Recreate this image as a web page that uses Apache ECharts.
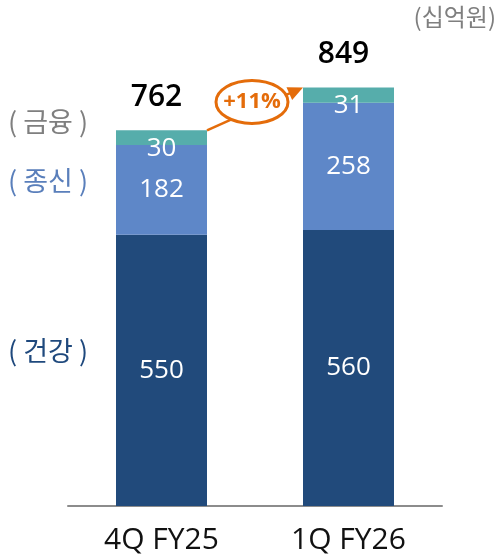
<!DOCTYPE html>
<html>
<head>
<meta charset="utf-8">
<script src="https://cdn.jsdelivr.net/npm/echarts@6/dist/echarts.min.js"></script>
<style>
  html, body { margin: 0; padding: 0; background: #fff; }
  #chart { width: 500px; height: 560px; }
</style>
</head>
<body>
<div id="chart"></div>
<script>
const categories = ['4Q FY25', '1Q FY26']
const health = [550, 560]   // 건강
const life = [182, 258]     // 종신
const finance = [30, 31]    // 금융
const totals = [762, 849]
const growthText = '+11%'
const unitText = '(십억원)'

const FONT = '"Open Sans", "Noto Sans CJK KR", sans-serif'
const KFONT = '"Noto Sans CJK KR", sans-serif'
const chart = echarts.init(document.getElementById('chart'))

// 2번째 막대 라벨은 조금 굵게
const withWeight = arr => arr.map((v, i) => ({
  value: v,
  label: { fontWeight: i === 1 ? 500 : 'normal' }
}))

const innerLabel = {
  show: true,
  color: '#fff',
  fontSize: 26,
  fontFamily: FONT
}

const option = {
  animation: false,
  grid: { left: 68, right: 58, top: 13, bottom: 54 },
  xAxis: {
    type: 'category',
    data: categories,
    axisLine: { lineStyle: { color: '#8c8c8c', width: 2 } },
    axisTick: { show: false },
    axisLabel: { color: '#111', fontSize: 30, fontFamily: FONT, margin: 19 }
  },
  yAxis: {
    type: 'value',
    min: 0,
    max: 1000,
    show: false
  },
  series: [
    {
      name: '건강',
      type: 'bar',
      stack: 'total',
      barWidth: 91,
      data: withWeight(health),
      itemStyle: { color: '#214a7b' },
      label: innerLabel
    },
    {
      name: '종신',
      type: 'bar',
      stack: 'total',
      data: withWeight(life),
      itemStyle: { color: '#5e87c8' },
      label: innerLabel
    },
    {
      name: '금융',
      type: 'bar',
      stack: 'total',
      data: withWeight(finance),
      itemStyle: { color: '#56adab' },
      label: { ...innerLabel, offset: [0, 11] }
    },
    {
      name: '합계',
      type: 'scatter',
      data: totals,
      symbolSize: 1,
      itemStyle: { color: 'rgba(255,255,255,0)' },
      silent: true,
      label: {
        show: true,
        position: 'top',
        distance: 17,
        offset: [-5, 0],
        color: '#000000',
        opacity: 1,
        fontSize: 30,
        fontWeight: 600,
        fontFamily: FONT
      }
    }
  ]
}

chart.setOption(option)

// 주석(+11% 화살표)은 막대 위치를 기준으로 계산
const half = 45.5
const a = chart.convertToPixel({ seriesIndex: 0 }, [0, totals[0]])
const b = chart.convertToPixel({ seriesIndex: 0 }, [1, totals[1]])
const p1 = [a[0] + half, a[1]]
const p2 = [b[0] - half, b[1]]
const cx = (p1[0] + p2[0]) / 2 - 3
const cy = (p1[1] + p2[1]) / 2 - 7
const ang = Math.atan2(p2[1] - p1[1], p2[0] - p1[0])
const ah = 15
const arrow = [
  p2,
  [p2[0] - ah * Math.cos(ang) + 7 * Math.sin(ang), p2[1] - ah * Math.sin(ang) - 7 * Math.cos(ang)],
  [p2[0] - ah * Math.cos(ang) - 7 * Math.sin(ang), p2[1] - ah * Math.sin(ang) + 7 * Math.cos(ang)]
]
const orange = '#e46c0a'

const sideLabel = (text, y, color) => ({
  type: 'text',
  left: 8,
  top: y,
  style: { text, fill: color, fontSize: 27, fontFamily: KFONT }
})

chart.setOption({
  graphic: [
    {
      type: 'line',
      shape: { x1: p1[0], y1: p1[1], x2: p2[0] - 8 * Math.cos(ang), y2: p2[1] - 8 * Math.sin(ang) },
      style: { stroke: orange, lineWidth: 2.5 },
      z: 10
    },
    { type: 'polygon', shape: { points: arrow }, style: { fill: orange }, z: 10 },
    {
      type: 'ellipse',
      shape: { cx, cy, rx: 36, ry: 21.5 },
      style: { fill: '#fff', stroke: orange, lineWidth: 3 },
      z: 11
    },
    {
      type: 'text',
      x: cx,
      y: cy,
      style: {
        text: growthText, fill: orange, fontSize: 22, fontWeight: 'bold',
        fontFamily: FONT, align: 'center', verticalAlign: 'middle'
      },
      z: 12
    },
    sideLabel('( 금융 )', 108, '#7f7f7f'),
    sideLabel('( 종신 )', 167, '#5a7fbb'),
    sideLabel('( 건강 )', 337, '#1f497d'),
    {
      type: 'text',
      right: 4,
      top: 5,
      style: { text: unitText, fill: '#7f7f7f', fontSize: 24, fontFamily: KFONT }
    }
  ]
})
</script>
</body>
</html>
